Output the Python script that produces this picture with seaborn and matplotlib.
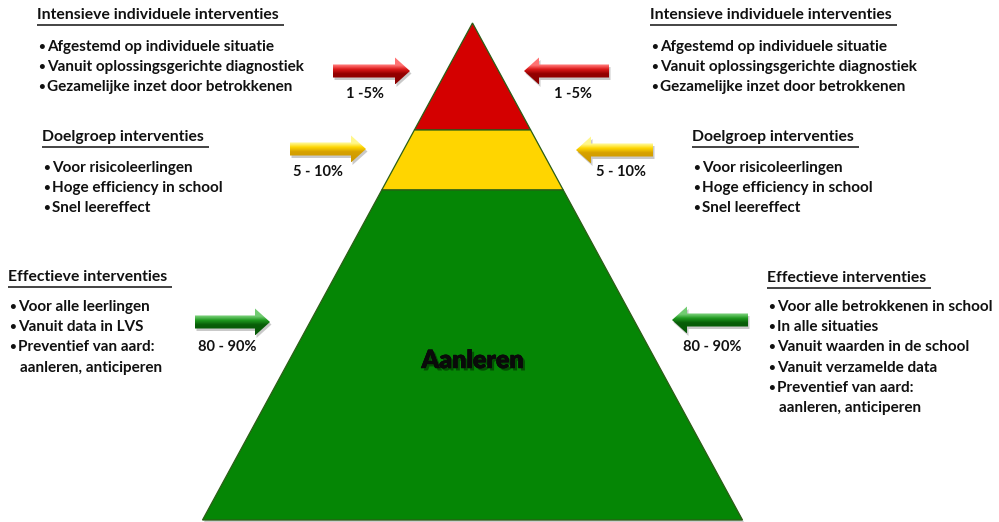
import numpy as np
import matplotlib
matplotlib.use("Agg")
import matplotlib.pyplot as plt
import seaborn as sns
from matplotlib.patches import Polygon
import matplotlib.patheffects as pe

# ---------------- data ----------------
tiers = ["Intensief", "Doelgroep", "Effectief"]
tier_colors = ["#d40000", "#ffd500", "#058605"]
percent_labels = ["1 -5%", "5 - 10%", "80 - 90%"]
left_titles = ["Intensieve individuele interventies",
               "Doelgroep interventies",
               "Effectieve interventies"]
right_titles = ["Intensieve individuele interventies",
                "Doelgroep interventies",
                "Effectieve interventies"]
left_bullets_top = ["Afgestemd op individuele situatie",
                    "Vanuit oplossingsgerichte diagnostiek",
                    "Gezamelijke inzet door betrokkenen"]
left_bullets_mid = ["Voor risicoleerlingen",
                    "Hoge efficiency in school",
                    "Snel leereffect"]
left_bullets_bot = ["Voor alle leerlingen",
                    "Vanuit data in LVS",
                    "Preventief van aard:",
                    "  aanleren, anticiperen"]
right_bullets_top = ["Afgestemd op individuele situatie",
                     "Vanuit oplossingsgerichte diagnostiek",
                     "Gezamelijke inzet door betrokkenen"]
right_bullets_mid = ["Voor risicoleerlingen",
                     "Hoge efficiency in school",
                     "Snel leereffect"]
right_bullets_bot = ["Voor alle betrokkenen in school",
                     "In alle situaties",
                     "Vanuit waarden in de school",
                     "Vanuit verzamelde data",
                     "Preventief van aard:",
                     "  aanleren, anticiperen"]
base_label = "Aanleren"

# ---------------- style ----------------
sns.set_theme(style="white")
plt.rcParams['font.family'] = ['Lato', 'DejaVu Sans']

W, H = 999, 522
fig = plt.figure(figsize=(W / 100, H / 100), dpi=100)
ax = fig.add_axes([0, 0, 1, 1])
ax.axis('off')
ax.set_xlim(0, W)
ax.set_ylim(H, 0)
ax.set_autoscale_on(False)

# ---------------- pyramid ----------------
apex_x, apex_y = 472.5, 23
base_y, half_base = 520, 270
bounds_y = [apex_y, 130, 190, base_y]


def half_w(y):
    return half_base * (y - apex_y) / (base_y - apex_y)


shadow = [(apex_x + 1.5, apex_y + 2), (apex_x + half_base + 1.5, base_y + 2),
          (apex_x - half_base + 1.5, base_y + 2)]
ax.add_patch(Polygon(shadow, closed=True, fc='0.45', ec='none', alpha=0.35, zorder=1))
for i, c in enumerate(tier_colors):
    y0, y1 = bounds_y[i], bounds_y[i + 1]
    w0, w1 = half_w(y0), half_w(y1)
    poly = [(apex_x - w0, y0), (apex_x + w0, y0), (apex_x + w1, y1), (apex_x - w1, y1)]
    ax.add_patch(Polygon(poly, closed=True, fc=c, ec='#2b5e16', lw=0.9, zorder=2,
                         joinstyle='miter'))

ax.text(apex_x, 361, base_label, ha='center', va='center', fontsize=18,
        fontweight='heavy', color='#0a0a0a', zorder=5,
        path_effects=[pe.withSimplePatchShadow(offset=(1.8, -1.8), shadow_rgbFace='black', alpha=0.4),
                      pe.Stroke(linewidth=0.4, foreground='#0a0a0a'), pe.Normal()])

# ---------------- arrows ----------------
arrow_styles = {
    0: [(1.00, 0.45, 0.45), (0.86, 0.10, 0.10), (0.55, 0.00, 0.00)],
    1: [(1.00, 0.97, 0.55), (1.00, 0.84, 0.00), (0.80, 0.60, 0.00)],
    2: [(0.45, 0.80, 0.45), (0.12, 0.60, 0.12), (0.03, 0.35, 0.03)],
}


def draw_arrow(x_tail, x_tip, yc, cols):
    d = np.sign(x_tip - x_tail)
    hl, sh, hh = 15, 6.5, 13.5
    xs = x_tip - d * hl
    verts = [(x_tail, yc - sh), (xs, yc - sh), (xs, yc - hh), (x_tip, yc),
             (xs, yc + hh), (xs, yc + sh), (x_tail, yc + sh)]
    sv = [(x + 1.5, y + 2.5) for x, y in verts]
    ax.add_patch(Polygon(sv, closed=True, fc='0.4', ec='none', alpha=0.35, zorder=2))
    n = 60
    t = np.linspace(0, 1, n)
    top, mid, bot = [np.array(c) for c in cols]
    stops = np.array([0.0, 0.30, 0.45, 0.62, 1.0])
    scol = np.array([top, top, mid, bot * 1.05, bot])
    grad = np.stack([np.interp(t, stops, scol[:, k]) for k in range(3)], axis=1)
    grad = np.clip(grad, 0, 1)[:, None, :]
    im = ax.imshow(grad, extent=[min(x_tail, x_tip), max(x_tail, x_tip), yc + hh, yc - hh],
                   aspect='auto', interpolation='bilinear', zorder=3)
    clip = Polygon(verts, closed=True, fc='none', ec='none', transform=ax.transData)
    ax.add_patch(clip)
    im.set_clip_path(clip)


arrow_left = [(333, 410, 71), (290, 366, 149), (195, 270, 322)]
arrow_right = [(609, 524, 71), (653, 576, 150), (748, 672, 320)]
label_left = [(365, 94), (318, 172), (227, 347)]
label_right = [(573, 94), (621, 172), (712, 347)]
for i in range(3):
    draw_arrow(*arrow_left[i], arrow_styles[i])
    draw_arrow(*arrow_right[i], arrow_styles[i])
    ax.text(*label_left[i], percent_labels[i], ha='center', va='center',
            fontsize=10.5, fontweight='bold', color='#111111', zorder=5)
    ax.text(*label_right[i], percent_labels[i], ha='center', va='center',
            fontsize=10.5, fontweight='bold', color='#111111', zorder=5)

# ---------------- text blocks ----------------
renderer = fig.canvas.get_renderer()
probe = ax.text(0, 0, left_bullets_top[1], fontsize=10, fontweight='bold')
pw = probe.get_window_extent(renderer).width
probe.remove()
fs = 10 * 257 / pw

blocks = [
    (37, 15, 47, left_titles[0], left_bullets_top),
    (650, 15, 47, right_titles[0], right_bullets_top),
    (42, 137, 168, left_titles[1], left_bullets_mid),
    (692, 137, 168, right_titles[1], right_bullets_mid),
    (8, 277, 307, left_titles[2], left_bullets_bot),
    (767, 278, 307, right_titles[2], right_bullets_bot),
]
line_h = 20.2
inv = ax.transData.inverted()
for x, ty, by, title, bullets in blocks:
    t = ax.text(x, ty, title, ha='left', va='center', fontsize=fs * 1.03,
                fontweight='bold', color='#111111', zorder=5)
    bb = t.get_window_extent(renderer)
    (x0, _), (x1, _) = inv.transform([(bb.x0, bb.y0), (bb.x1, bb.y0)])
    ax.plot([x0, x1 + 5], [ty + 9.5, ty + 9.5], color='#111111', lw=1.1, zorder=5,
            solid_capstyle='butt')
    for j, b in enumerate(bullets):
        yy = by + j * line_h
        if b.startswith("  "):
            ax.text(x + 12, yy, b.strip(), ha='left', va='center', fontsize=fs,
                    fontweight='bold', color='#111111', zorder=5)
        else:
            ax.text(x + 1, yy - 0.5, "•", ha='left', va='center', fontsize=fs * 0.75,
                    fontweight='bold', color='#111111', zorder=5)
            ax.text(x + 10, yy, b, ha='left', va='center', fontsize=fs,
                    fontweight='bold', color='#111111', zorder=5)

fig.savefig("out.png", dpi=100, facecolor='white')
